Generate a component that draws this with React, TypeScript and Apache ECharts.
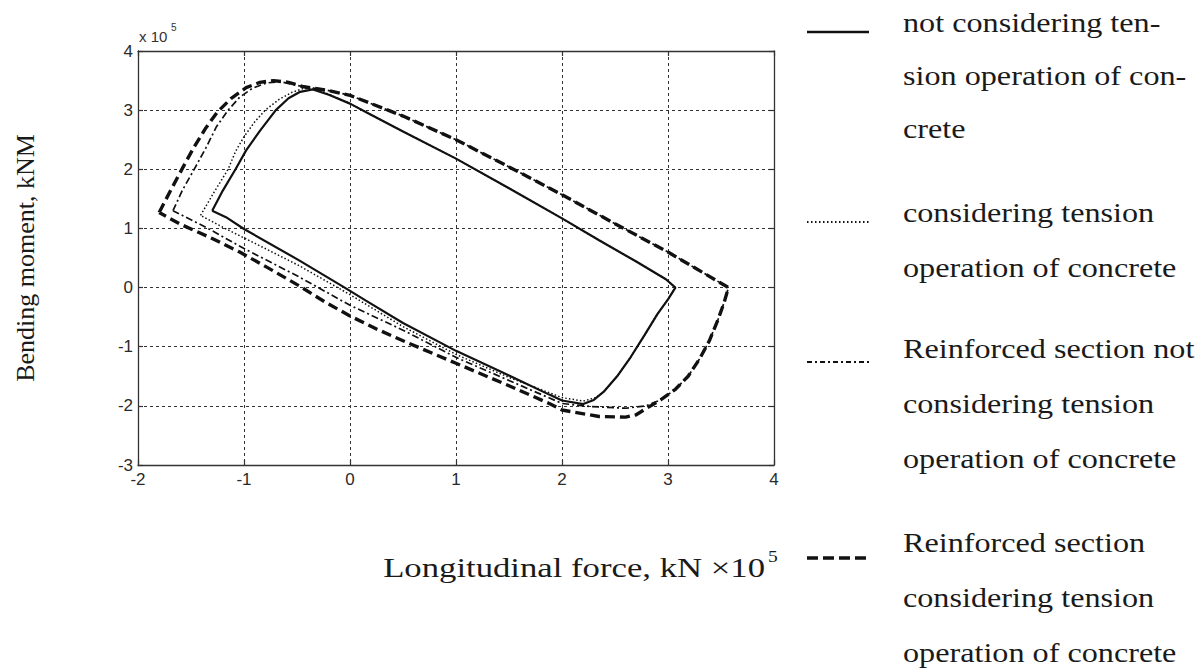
import React, { useEffect, useRef } from "react";
import * as echarts from "echarts";

// ---- Data (units: force ×10^5 kN, moment ×10^5 kNm) ----
const xTickRange = { min: -2, max: 4, step: 1 };
const yTickRange = { min: -3, max: 4, step: 1 };

const seriesNames = [
  "not considering tension operation of concrete",
  "considering tension operation of concrete",
  "Reinforced section not considering tension operation of concrete",
  "Reinforced section considering tension operation of concrete",
];

// solid: not considering tension operation of concrete
const solidX = [-1.30, -1.20, -1.08, -0.98, -0.85, -0.70, -0.58, -0.47, -0.35, -0.20, 0.00, 0.18, 0.50, 1.00, 1.50, 2.00, 2.35, 2.70, 2.98, 3.07, 3.00, 2.90, 2.78, 2.65, 2.52, 2.40, 2.30, 2.20, 2.00, 1.88, 1.41, 1.00, 0.50, 0.15, -0.05, -0.48, -1.00, -1.17, -1.30];
const solidY = [1.30, 1.64, 2.00, 2.32, 2.65, 3.00, 3.20, 3.31, 3.35, 3.26, 3.11, 2.94, 2.64, 2.18, 1.68, 1.17, 0.80, 0.44, 0.14, 0.00, -0.20, -0.45, -0.80, -1.17, -1.50, -1.75, -1.90, -1.97, -1.91, -1.81, -1.41, -1.07, -0.60, -0.22, 0.00, 0.46, 0.99, 1.19, 1.30];

// dotted: considering tension operation of concrete
const dottedX = [-1.41, -1.28, -1.15, -1.08, -1.00, -0.90, -0.80, -0.67, -0.55, -0.45, -0.35, -0.20, 0.00, 0.18, 0.50, 1.00, 1.50, 2.00, 2.35, 2.70, 2.98, 3.07, 3.00, 2.90, 2.78, 2.65, 2.52, 2.40, 2.32, 2.20, 2.00, 1.50, 1.00, 0.50, 0.00, -0.48, -0.80, -1.20, -1.41];
const dottedY = [1.22, 1.62, 2.00, 2.30, 2.55, 2.80, 3.00, 3.18, 3.30, 3.36, 3.37, 3.27, 3.11, 2.94, 2.64, 2.18, 1.68, 1.17, 0.80, 0.44, 0.14, 0.00, -0.20, -0.45, -0.80, -1.17, -1.50, -1.75, -1.86, -1.92, -1.86, -1.52, -1.13, -0.66, -0.12, 0.37, 0.66, 1.02, 1.22];

// dash-dot: reinforced section not considering tension
const dashDotX = [-1.67, -1.58, -1.47, -1.36, -1.26, -1.15, -1.04, -0.92, -0.79, -0.65, -0.45, -0.20, 0.00, 0.50, 1.00, 1.50, 2.00, 2.50, 3.00, 3.57, 3.53, 3.47, 3.39, 3.30, 3.19, 3.07, 2.93, 2.79, 2.60, 2.26, 2.00, 1.50, 1.00, 0.50, 0.00, -0.50, -1.00, -1.36, -1.67];
const dashDotY = [1.30, 1.65, 2.00, 2.36, 2.72, 3.00, 3.22, 3.37, 3.46, 3.48, 3.40, 3.33, 3.25, 2.90, 2.50, 2.04, 1.57, 1.08, 0.60, 0.00, -0.25, -0.55, -0.90, -1.20, -1.50, -1.72, -1.90, -2.00, -2.04, -2.01, -1.96, -1.57, -1.18, -0.72, -0.30, 0.20, 0.66, 1.02, 1.30];

// dashed: reinforced section considering tension
const dashedX = [-1.80, -1.69, -1.58, -1.47, -1.36, -1.25, -1.12, -0.98, -0.85, -0.72, -0.58, -0.45, -0.20, 0.00, 0.50, 1.00, 1.50, 2.00, 2.50, 3.00, 3.57, 3.53, 3.47, 3.39, 3.30, 3.19, 3.07, 2.93, 2.79, 2.70, 2.60, 2.35, 2.00, 1.88, 1.50, 1.00, 0.50, 0.25, 0.00, -0.24, -0.48, -0.79, -1.04, -1.30, -1.61, -1.80];
const dashedY = [1.27, 1.65, 2.02, 2.38, 2.70, 2.97, 3.20, 3.38, 3.47, 3.50, 3.47, 3.40, 3.33, 3.25, 2.90, 2.50, 2.04, 1.57, 1.08, 0.60, 0.00, -0.25, -0.55, -0.90, -1.20, -1.50, -1.72, -1.90, -2.05, -2.15, -2.19, -2.18, -2.07, -1.96, -1.66, -1.28, -0.90, -0.70, -0.48, -0.24, 0.03, 0.35, 0.60, 0.83, 1.08, 1.27];

// legend text lines
const legendLines1 = ["not considering ten-", "sion operation of con-", "crete"];
const legendLines2 = ["considering tension", "operation of concrete"];
const legendLines3 = ["Reinforced section not", "considering tension", "operation of concrete"];
const legendLines4 = ["Reinforced section", "considering tension", "operation of concrete"];

const yAxisTitle = "Bending moment, kNM";
const xAxisTitle = "Longitudinal force, kN \u00d710";
const xAxisTitleExp = "5";
const scaleLabel = "x 10";
const scaleExp = "5";

const zip = (xs: number[], ys: number[]) => xs.map((x, i) => [x, ys[i]]);

const INK = "#111";
const TXT = "#1a1a1a";
const SERIF = "'Liberation Serif', 'Times New Roman', serif";
const SANS = "'Liberation Sans', Arial, sans-serif";

export default function App() {
  const ref = useRef<HTMLDivElement>(null);

  useEffect(() => {
    if (!ref.current) return;
    const chart = echarts.init(ref.current, undefined, { renderer: "svg" });

    const fs = 28;
    const sx = 1.15;
    const legendText = (lines: string[], baselines: number[]) =>
      lines.map((t, i) => ({
        type: "text",
        x: 903,
        y: baselines[i] - 0.32 * fs,
        scaleX: sx,
        style: {
          text: t,
          fontFamily: SERIF,
          fontSize: fs,
          fill: TXT,
          textAlign: "left",
          textVerticalAlign: "middle",
        },
      }));

    const legendSample = (y: number, width: number, dash: any) => ({
      type: "line",
      shape: { x1: 807, y1: y, x2: 869, y2: y },
      style: { stroke: INK, lineWidth: width, lineDash: dash },
    });

    const axisCommon = {
      type: "value",
      axisLine: { show: true, onZero: false, lineStyle: { color: "#333", width: 1.3 } },
      axisTick: { show: true, inside: true, length: 5, lineStyle: { color: "#333", width: 1.2 } },
    };

    const option: any = {
      animation: false,
      backgroundColor: "#fff",
      grid: { left: 138, top: 51, width: 636, height: 414 },
      xAxis: [
        {
          ...axisCommon,
          position: "bottom",
          min: xTickRange.min,
          max: xTickRange.max,
          interval: xTickRange.step,
          axisLabel: { color: "#2a2a2a", fontSize: 17, fontFamily: SANS, margin: 6 },
          splitLine: { show: true, lineStyle: { type: [3, 3], color: "#333", width: 1 } },
        },
        {
          ...axisCommon,
          position: "top",
          min: xTickRange.min,
          max: xTickRange.max,
          interval: xTickRange.step,
          axisLabel: { show: false },
          splitLine: { show: false },
        },
      ],
      yAxis: [
        {
          ...axisCommon,
          position: "left",
          min: yTickRange.min,
          max: yTickRange.max,
          interval: yTickRange.step,
          axisLabel: { color: "#2a2a2a", fontSize: 17, fontFamily: SANS, margin: 5 },
          splitLine: { show: true, lineStyle: { type: [3, 3], color: "#333", width: 1 } },
        },
        {
          ...axisCommon,
          position: "right",
          min: yTickRange.min,
          max: yTickRange.max,
          interval: yTickRange.step,
          axisLabel: { show: false },
          splitLine: { show: false },
        },
      ],
      series: [
        {
          name: seriesNames[0],
          type: "line",
          data: zip(solidX, solidY),
          showSymbol: false,
          lineStyle: { color: INK, width: 2.2, type: "solid" },
          z: 5,
        },
        {
          name: seriesNames[1],
          type: "line",
          data: zip(dottedX, dottedY),
          showSymbol: false,
          lineStyle: { color: INK, width: 1.5, type: [1.5, 2.2] },
          z: 3,
        },
        {
          name: seriesNames[2],
          type: "line",
          data: zip(dashDotX, dashDotY),
          showSymbol: false,
          lineStyle: { color: INK, width: 1.7, type: [7, 3, 2, 3] },
          z: 3,
        },
        {
          name: seriesNames[3],
          type: "line",
          data: zip(dashedX, dashedY),
          showSymbol: false,
          lineStyle: { color: INK, width: 3.4, type: [10, 5] },
          z: 4,
        },
      ],
      graphic: [
        {
          type: "text",
          x: 139,
          y: 36,
          style: { text: scaleLabel, fontFamily: SANS, fontSize: 15, fill: "#333", textAlign: "left", textVerticalAlign: "middle" },
        },
        {
          type: "text",
          x: 171,
          y: 27,
          style: { text: scaleExp, fontFamily: SANS, fontSize: 10, fill: "#333", textAlign: "left", textVerticalAlign: "middle" },
        },
        {
          type: "text",
          x: 25,
          y: 258,
          rotation: Math.PI / 2,
          style: { text: yAxisTitle, fontFamily: SERIF, fontSize: 26, fill: TXT, textAlign: "center", textVerticalAlign: "middle" },
        },
        {
          type: "text",
          x: 765,
          y: 577 - 0.32 * fs,
          scaleX: 1.24,
          style: { text: xAxisTitle, fontFamily: SERIF, fontSize: fs, fill: TXT, textAlign: "right", textVerticalAlign: "middle" },
        },
        {
          type: "text",
          x: 768,
          y: 556,
          scaleX: sx,
          style: { text: xAxisTitleExp, fontFamily: SERIF, fontSize: 17, fill: TXT, textAlign: "left", textVerticalAlign: "middle" },
        },
        legendSample(32, 2.5, null),
        legendSample(222, 2, [1.5, 2.5]),
        legendSample(362, 2, [5, 3, 2, 3]),
        legendSample(558, 3.5, [11, 5]),
        ...legendText(legendLines1, [32, 85, 138]),
        ...legendText(legendLines2, [222, 277]),
        ...legendText(legendLines3, [358, 413, 468]),
        ...legendText(legendLines4, [552, 607, 662]),
      ],
    };

    chart.setOption(option);
    return () => chart.dispose();
  }, []);

  return (
    <div
      ref={ref}
      style={{ position: "fixed", left: 0, top: 0, width: 1197, height: 669, background: "#fff" }}
    />
  );
}
